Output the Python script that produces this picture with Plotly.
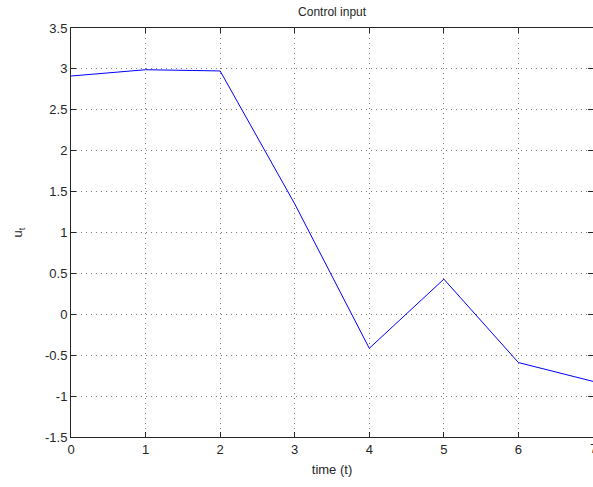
import plotly.graph_objects as go

t_values = [0, 1, 2, 3, 4, 5, 6, 7]
u_values = [2.913, 2.99, 2.975, 1.35, -0.416, 0.43, -0.59, -0.82]
x_ticks = [0, 1, 2, 3, 4, 5, 6, 7]
y_ticks = [-1.5, -1, -0.5, 0, 0.5, 1, 1.5, 2, 2.5, 3, 3.5]
y_tick_labels = ["-1.5", "-1", "-0.5", "0", "0.5", "1", "1.5", "2", "2.5", "3", "3.5"]

FONT = "Liberation Sans, Arial, sans-serif"

fig = go.Figure()
fig.add_trace(go.Scatter(x=t_values, y=u_values, mode="lines",
                         line=dict(color="#0000FF", width=1), showlegend=False,
                         cliponaxis=True))

axis_common = dict(
    showline=True, linecolor="#262626", linewidth=1, mirror="ticks",
    ticks="inside", ticklen=5, tickcolor="#262626",
    showgrid=True, gridcolor="#7a7a7a", griddash="1px,4px", gridwidth=1,
    zeroline=False, automargin=False,
    tickfont=dict(family=FONT, size=13, color="#262626"),
)

fig.update_layout(
    width=593, height=487,
    margin=dict(l=71, r=0, t=28, b=50, autoexpand=False),
    paper_bgcolor="white", plot_bgcolor="white",
    title=dict(text="Control input", x=0.56, xanchor="center", y=0.975, yanchor="middle",
               font=dict(family=FONT, size=12, color="#262626"), automargin=False),
    xaxis=dict(range=[0, 7], tickvals=x_ticks, ticktext=[str(v) for v in x_ticks],
               title=dict(text="time (t)", standoff=9,
                          font=dict(family=FONT, size=13, color="#262626")),
               **axis_common),
    yaxis=dict(range=[-1.5, 3.5], tickvals=y_ticks, ticktext=y_tick_labels,
               title=dict(text="u<sub>t</sub>", standoff=19,
                          font=dict(family=FONT, size=13, color="#262626")),
               **axis_common),
)

# last x tick label, cut by the page edge as in the reference
fig.add_annotation(x=x_ticks[-1], xref="x", y=0, yref="paper", text=str(x_ticks[-1]),
                   showarrow=False, xanchor="center", yanchor="top", yshift=-2,
                   font=dict(family=FONT, size=13, color="#262626"))

fig.write_html("out.html", config={"displayModeBar": False},
               post_script="document.body.style.margin='0';document.body.style.overflow='hidden';")
